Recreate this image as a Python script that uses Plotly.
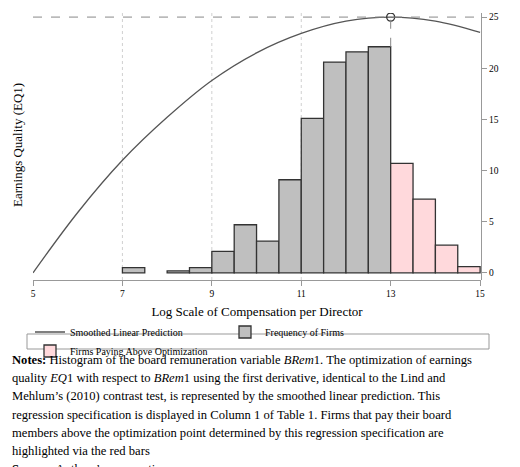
import plotly.graph_objects as go

bin_left = [7.0, 8.0, 8.5, 9.0, 9.5, 10.0, 10.5, 11.0, 11.5, 12.0, 12.5, 13.0, 13.5, 14.0, 14.5]
percent = [0.5, 0.2, 0.5, 2.1, 4.7, 3.1, 9.1, 15.1, 20.6, 21.6, 22.1, 10.7, 7.2, 2.7, 0.6]
curve_x = [5, 6, 7, 8, 9, 10, 11, 12, 13, 14, 15]
curve_y = [0, 5.9, 11.0, 15.2, 18.8, 21.5, 23.4, 24.6, 25.0, 24.6, 23.5]
opt_x, opt_y = 13, 25
x_ticks = [5, 7, 9, 11, 13, 15]
y_ticks = [0, 5, 10, 15, 20, 25]

W, H = 520, 467
L, R, T, B = 25, 47, 5, 195
pw, ph = W - L - R, H - T - B
def px(x): return (x - L) / pw
def py(y): return (H - B - y) / ph

gray = [(b, p) for b, p in zip(bin_left, percent) if b < opt_x]
pink = [(b, p) for b, p in zip(bin_left, percent) if b >= opt_x]

fig = go.Figure()
fig.add_trace(go.Scatter(x=curve_x, y=curve_y, mode="lines", line=dict(color="#555", width=1.3, shape="spline"),
                         name="Smoothed Linear Prediction"))
fig.add_trace(go.Bar(x=[b for b, _ in gray], y=[p for _, p in gray], width=0.5, offset=0,
                     marker=dict(color="#bfbfbf", line=dict(color="#333", width=1.3)), name="Frequency of Firms"))
fig.add_trace(go.Bar(x=[b for b, _ in pink], y=[p for _, p in pink], width=0.5, offset=0,
                     marker=dict(color="#ffd9dc", line=dict(color="#333", width=1.3)), name="Firms Paying Above Optimization"))
fig.add_trace(go.Scatter(x=[opt_x], y=[opt_y], mode="markers", showlegend=False,
                         marker=dict(symbol="circle-open", size=8, color="#333", line=dict(width=1.3))))

shapes = []
for xv in [7, 9, 11]:
    shapes.append(dict(type="line", x0=xv, x1=xv, y0=-0.7, y1=25.4, xref="x", yref="y",
                       line=dict(color="#d0d0d0", width=1, dash="dot"), layer="below"))
shapes.append(dict(type="line", x0=opt_x, x1=opt_x, y0=percent[10], y1=opt_y, line=dict(color="#888", width=1, dash="dash")))
shapes.append(dict(type="line", x0=0, x1=1, xref="paper", y0=opt_y, y1=opt_y, line=dict(color="#888", width=1, dash="dash")))
shapes.append(dict(type="rect", xref="paper", yref="paper", x0=px(19), x1=px(481), y0=py(326), y1=py(341),
                   line=dict(color="#999", width=1)))

font = "Liberation Serif, Times New Roman, serif"
notes = [
    "<b>Notes:</b> Histogram of the board remuneration variable <i>BRem</i>1. The optimization of earnings",
    "quality <i>EQ</i>1 with respect to <i>BRem</i>1 using the first derivative, identical to the Lind and",
    "Mehlum’s (2010) contrast test, is represented by the smoothed linear prediction. This",
    "regression specification is displayed in Column 1 of Table 1. Firms that pay their board",
    "members above the optimization point determined by this regression specification are",
    "highlighted via the red bars",
    "<b>Source:</b> Authors’ own creation",
]
ann = []
for i, t in enumerate(notes):
    yc = 352 + i * 18.2
    ann.append(dict(text=t, xref="paper", yref="paper", x=px(2), y=py(yc), xanchor="left", yanchor="middle",
                    showarrow=False, font=dict(size=12.6, color="black", family=font)))
ann.append(dict(text="Earnings Quality (EQ1)", xref="paper", yref="paper", x=px(9), y=py(137), textangle=-90,
                xanchor="center", yanchor="middle", showarrow=False, font=dict(size=13, color="black", family=font)))
ann.append(dict(text="Percent", xref="paper", yref="paper", x=px(512), y=py(137), textangle=-90,
                xanchor="center", yanchor="middle", showarrow=False, font=dict(size=13, color="black", family=font)))

fig.update_layout(
    width=W, height=H, margin=dict(l=L, r=R, t=T, b=B), paper_bgcolor="white", plot_bgcolor="white",
    font=dict(family=font, color="black"), barmode="overlay", shapes=shapes, annotations=ann,
    xaxis=dict(range=[5, 15.02], tickvals=x_ticks, showgrid=False, showline=True, linecolor="#999",
               ticks="outside", ticklen=5, tickcolor="#999", tickfont=dict(size=9.5), zeroline=False,
               title=dict(text="Log Scale of Compensation per Director", font=dict(size=13), standoff=8)),
    yaxis=dict(range=[-0.7, 25.4], side="right", tickvals=y_ticks, showgrid=False, showline=True, linecolor="#999",
               ticks="outside", ticklen=5, tickcolor="#999", tickfont=dict(size=9.5), zeroline=False,
               anchor="free", position=1.0),
    legend=dict(orientation="h", x=px(22), xanchor="left", y=py(333.5), yanchor="middle",
                font=dict(size=10, family=font), bgcolor="rgba(0,0,0,0)",
                entrywidth=150, entrywidthmode="pixels", itemwidth=30),
)
fig.write_html("out.html")
